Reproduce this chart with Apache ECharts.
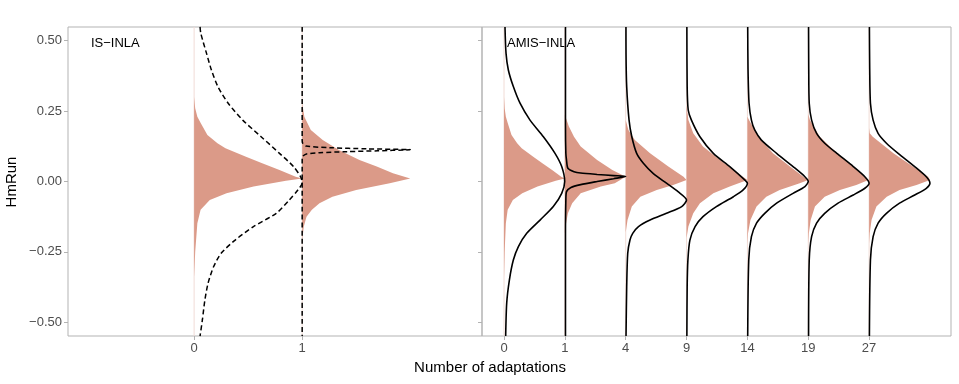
<!DOCTYPE html>
<html>
<head>
<meta charset="utf-8">
<script src="https://cdn.jsdelivr.net/npm/echarts@6/dist/echarts.min.js"></script>
<style>
html, body { margin: 0; padding: 0; background: #fff; }
#main { width: 959px; height: 384px; }
</style>
</head>
<body>
<div id="main"></div>
<script>
// tick labels
let yTicks = [-0.5, -0.25, 0, 0.25, 0.5];
let isLabels = ['0', '1'];
let amisLabels = ['0', '1', '4', '9', '14', '19', '27'];

// shapes: [HmRun, width] -- width is 1 at the peak (one x step)
let fillIter0 = [[0.549,0],[0.30,0],[0.26,0.01],[0.23,0.03],[0.207,0.062],[0.165,0.123],[0.136,0.216],[0.118,0.29],[0.088,0.48],[0.065,0.63],[0.041,0.79],[0.017,0.94],[0.011,1.0],[0.003,0.85],[-0.018,0.55],[-0.042,0.3],[-0.066,0.145],[-0.10,0.06],[-0.148,0.03],[-0.25,0.01],[-0.34,0],[-0.549,0]];
let fillIS1 = [[0.549,0],[0.28,0],[0.23,0.02],[0.183,0.08],[0.147,0.19],[0.112,0.34],[0.076,0.53],[0.053,0.69],[0.029,0.84],[0.011,1.0],[-0.006,0.81],[-0.03,0.5],[-0.054,0.28],[-0.077,0.16],[-0.10,0.09],[-0.125,0.04],[-0.16,0.015],[-0.21,0],[-0.549,0]];
let fillR1 = [[0.549,0],[0.236,0],[0.195,0.066],[0.159,0.15],[0.124,0.26],[0.076,0.53],[0.041,0.78],[0.017,1.0],[-0.006,0.82],[-0.018,0.59],[-0.042,0.26],[-0.077,0.12],[-0.113,0.05],[-0.148,0.02],[-0.184,0],[-0.549,0]];
let fillR4 = [[0.549,0],[0.218,0],[0.183,0.044],[0.147,0.15],[0.10,0.40],[0.053,0.70],[0.017,0.95],[0.005,1.0],[-0.012,0.78],[-0.03,0.51],[-0.054,0.24],[-0.089,0.10],[-0.137,0.03],[-0.18,0],[-0.549,0]];
let fillR9 = [[0.549,0],[0.27,0],[0.218,0.03],[0.171,0.11],[0.124,0.27],[0.076,0.55],[0.041,0.77],[0.005,1.0],[-0.018,0.71],[-0.042,0.44],[-0.077,0.22],[-0.113,0.11],[-0.16,0.03],[-0.2,0],[-0.549,0]];
let fillR14 = [[0.549,0],[0.23,0],[0.218,0.027],[0.159,0.18],[0.10,0.42],[0.053,0.7],[0.017,0.92],[0.005,1.0],[-0.006,0.86],[-0.03,0.53],[-0.054,0.31],[-0.089,0.15],[-0.137,0.05],[-0.184,0.01],[-0.22,0],[-0.549,0]];
let fillR19 = [[0.549,0],[0.24,0],[0.218,0.027],[0.159,0.19],[0.10,0.47],[0.053,0.74],[0.017,0.93],[0.005,0.99],[-0.012,0.79],[-0.03,0.52],[-0.054,0.27],[-0.089,0.11],[-0.137,0.04],[-0.184,0.01],[-0.22,0],[-0.549,0]];
let fillR27 = [[0.549,0],[0.19,0],[0.171,0.01],[0.159,0.06],[0.10,0.4],[0.053,0.72],[0.017,0.97],[0.005,1.0],[-0.012,0.78],[-0.03,0.5],[-0.054,0.29],[-0.089,0.12],[-0.137,0.04],[-0.184,0.01],[-0.22,0],[-0.549,0]];

// proposals, IS-INLA (dashed)
let dashIS0 = [[0.549,0.055],[0.526,0.062],[0.455,0.115],[0.396,0.16],[0.337,0.22],[0.278,0.315],[0.218,0.45],[0.159,0.62],[0.10,0.79],[0.053,0.92],[0.017,0.985],[-0.005,1.0],[-0.03,0.96],[-0.066,0.88],[-0.113,0.76],[-0.16,0.55],[-0.208,0.38],[-0.255,0.25],[-0.303,0.18],[-0.36,0.13],[-0.42,0.10],[-0.49,0.077],[-0.549,0.055]];
let dashIS1 = [[0.549,0],[0.145,0],[0.136,0.005],[0.126,0.036],[0.12,0.26],[0.116,0.6],[0.113,1.0],[0.109,0.7],[0.106,0.41],[0.102,0.16],[0.098,0.04],[0.09,0.005],[0.085,0],[-0.549,0]];

// proposals, AMIS-INLA (solid)
let curveR0 = [[0.549,0.016],[0.455,0.033],[0.396,0.071],[0.337,0.153],[0.278,0.263],[0.218,0.427],[0.159,0.647],[0.10,0.838],[0.053,0.948],[0.0,0.997],[-0.042,0.948],[-0.089,0.81],[-0.137,0.592],[-0.184,0.373],[-0.231,0.236],[-0.279,0.153],[-0.35,0.088],[-0.432,0.044],[-0.549,0.027]];
let curveR1 = [[0.549,0.01],[0.2,0.01],[0.10,0.016],[0.076,0.027],[0.047,0.05],[0.035,0.15],[0.030,0.26],[0.025,0.53],[0.021,0.8],[0.018,1.0],[0.010,0.8],[0.0,0.53],[-0.011,0.26],[-0.021,0.1],[-0.036,0.027],[-0.066,0.016],[-0.2,0.01],[-0.549,0.01]];
let curveR4 = [[0.549,0.004],[0.455,0.005],[0.337,0.016],[0.218,0.055],[0.159,0.1],[0.10,0.18],[0.065,0.29],[0.029,0.45],[-0.006,0.67],[-0.036,0.86],[-0.066,1.0],[-0.089,0.92],[-0.113,0.67],[-0.137,0.4],[-0.16,0.21],[-0.184,0.115],[-0.208,0.07],[-0.255,0.033],[-0.374,0.016],[-0.549,0.005]];
let curveR9 = [[0.549,0.005],[0.337,0.01],[0.254,0.027],[0.218,0.08],[0.159,0.22],[0.10,0.44],[0.053,0.71],[0.005,0.96],[-0.006,1.0],[-0.03,0.93],[-0.054,0.77],[-0.089,0.49],[-0.125,0.27],[-0.16,0.14],[-0.208,0.055],[-0.279,0.022],[-0.374,0.01],[-0.549,0.005]];
let curveR14 = [[0.549,0.005],[0.4,0.01],[0.278,0.027],[0.218,0.066],[0.183,0.12],[0.147,0.23],[0.10,0.48],[0.053,0.75],[0.017,0.945],[0.0,1.0],[-0.018,0.945],[-0.042,0.75],[-0.077,0.48],[-0.113,0.285],[-0.148,0.15],[-0.196,0.066],[-0.279,0.022],[-0.549,0.005]];
let curveR19 = [[0.549,0.005],[0.4,0.008],[0.278,0.016],[0.218,0.055],[0.171,0.137],[0.136,0.27],[0.10,0.47],[0.053,0.74],[0.017,0.93],[-0.006,1.0],[-0.024,0.93],[-0.048,0.74],[-0.077,0.49],[-0.113,0.27],[-0.148,0.137],[-0.196,0.055],[-0.279,0.016],[-0.549,0.005]];
let curveR27 = [[0.549,0.005],[0.4,0.01],[0.278,0.022],[0.218,0.066],[0.171,0.148],[0.136,0.285],[0.10,0.477],[0.053,0.75],[0.017,0.94],[-0.006,1.0],[-0.024,0.94],[-0.048,0.75],[-0.077,0.5],[-0.113,0.285],[-0.148,0.148],[-0.196,0.066],[-0.279,0.022],[-0.549,0.005]];

let isFills = [fillIter0, fillIS1];
let amisFills = [fillIter0, fillR1, fillR4, fillR9, fillR14, fillR19, fillR27];
let isCurves = [dashIS0, dashIS1];
let amisCurves = [curveR0, curveR1, curveR4, curveR9, curveR14, curveR19, curveR27];

let fillColor = '#db9a88';
let borderColor = '#b3b3b3';
let font = '"Liberation Sans", Arial, sans-serif';

function yFmt(v) {
	return (v < 0 ? '\u2212' : '') + Math.abs(v).toFixed(2);
}

function fillSeries(shapes, idx) {
	return {
		type: 'custom',
		xAxisIndex: idx,
		yAxisIndex: idx,
		clip: true,
		encode: { x: 0, y: 1 },
		data: shapes.map(function (s, i) { return [i, 0]; }),
		renderItem: function (params, api) {
			let pos = api.value(0);
			let pts = shapes[params.dataIndex].map(function (p) {
				return api.coord([pos + p[1], p[0]]);
			});
			let a = api.coord([pos, 0.549]);
			let b = api.coord([pos, -0.549]);
			return {
				type: 'group',
				children: [
					{ type: 'line', shape: { x1: a[0], y1: a[1], x2: b[0], y2: b[1] }, style: { stroke: '#f1dcd6', lineWidth: 1 } },
					{ type: 'polygon', shape: { points: pts }, style: { fill: fillColor } }
				]
			};
		}
	};
}

function curveSeries(curves, idx, dashed) {
	return curves.map(function (c, pos) {
		return {
			type: 'line',
			xAxisIndex: idx,
			yAxisIndex: idx,
			showSymbol: false,
			smooth: 0.25,
			lineStyle: { color: '#000', width: dashed ? 1.5 : 1.6, type: dashed ? [5, 3] : 'solid' },
			data: c.map(function (p) { return [pos + p[1], p[0]]; })
		};
	});
}

function xAxisOf(idx, min, max, labels) {
	let vals = labels.map(function (l, i) { return i; });
	return {
		type: 'value',
		gridIndex: idx,
		position: 'bottom',
		min: min,
		max: max,
		splitLine: { show: false },
		axisLine: { show: false, onZero: false },
		axisTick: { show: true, length: 4, customValues: vals, lineStyle: { color: borderColor } },
		axisLabel: {
			customValues: vals,
			margin: 6,
			color: '#4d4d4d',
			fontSize: 13,
			fontFamily: font,
			formatter: function (v) { return labels[Math.round(v)]; }
		}
	};
}

function yAxisOf(idx, showLabel) {
	return {
		type: 'value',
		gridIndex: idx,
		position: 'left',
		min: -0.5487,
		max: 0.5487,
		splitLine: { show: false },
		axisLine: { show: false, onZero: false },
		axisTick: { show: true, length: 4, customValues: yTicks, lineStyle: { color: borderColor } },
		axisLabel: {
			show: showLabel,
			customValues: yTicks,
			margin: 6,
			color: '#4d4d4d',
			fontSize: 13,
			fontFamily: font,
			formatter: yFmt
		}
	};
}

let option = {
	animation: false,
	backgroundColor: '#fff',
	grid: [
		{ left: 68, right: 477, top: 27, bottom: 48, show: true, borderColor: borderColor, borderWidth: 1 },
		{ left: 482, right: 8, top: 27, bottom: 48, show: true, borderColor: borderColor, borderWidth: 1 }
	],
	xAxis: [
		xAxisOf(0, -1.167, 2.664, isLabels),
		xAxisOf(1, -0.362, 7.346, amisLabels)
	],
	yAxis: [yAxisOf(0, true), yAxisOf(1, false)],
	series: [fillSeries(isFills, 0), fillSeries(amisFills, 1)]
		.concat(curveSeries(isCurves, 0, true))
		.concat(curveSeries(amisCurves, 1, false)),
	graphic: [
		{ type: 'text', x: 91, y: 43, style: { text: 'IS\u2212INLA', font: '13px ' + font, fill: '#000', textVerticalAlign: 'middle' } },
		{ type: 'text', x: 507, y: 43, style: { text: 'AMIS\u2212INLA', font: '13px ' + font, fill: '#000', textVerticalAlign: 'middle' } },
		{ type: 'text', x: 490, y: 368, style: { text: 'Number of adaptations', font: '15px ' + font, fill: '#000', textAlign: 'center', textVerticalAlign: 'middle' } },
		{ type: 'text', x: 12, y: 182, rotation: Math.PI / 2, style: { text: 'HmRun', font: '15px ' + font, fill: '#000', textAlign: 'center', textVerticalAlign: 'middle' } }
	]
};

let chart = echarts.init(document.getElementById('main'), null, { renderer: 'canvas' });
chart.setOption(option);
</script>
</body>
</html>
